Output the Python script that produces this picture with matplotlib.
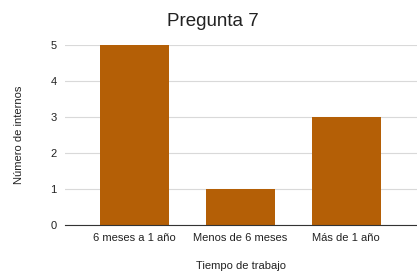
import matplotlib
matplotlib.use("Agg")
import matplotlib.pyplot as plt

categories = ["6 meses a 1 año", "Menos de 6 meses", "Más de 1 año"]
values = [5, 1, 3]
yticks = [0, 1, 2, 3, 4, 5]

plt.rcParams['font.family'] = ['Liberation Sans', 'DejaVu Sans']

fig = plt.figure(figsize=(4.17, 2.71), dpi=100)
ax = fig.add_axes([0.156, 0.170, 0.844, 0.664])
ax.bar(range(len(categories)), values, width=0.65, color="#B45F06", zorder=3)
ax.set_xlim(-0.66, 2.67)
ax.set_ylim(0, 5)
ax.set_yticks(yticks)
ax.set_xticks(range(len(categories)))
ax.set_xticklabels(categories)
ax.grid(axis='y', color='#d9d9d9', linewidth=0.8, zorder=0)
for s in ['top', 'right', 'left']:
    ax.spines[s].set_visible(False)
ax.spines['bottom'].set_color('#333333')
ax.spines['bottom'].set_zorder(4)
ax.tick_params(axis='both', length=0, labelsize=8, colors='#222222')
ax.tick_params(axis='y', pad=6)
ax.tick_params(axis='x', pad=6)
ax.set_ylabel("Número de internos", fontsize=8, color='#222222', labelpad=19)
ax.set_xlabel("Tiempo de trabajo", fontsize=8, color='#222222', labelpad=13)
fig.text(0.51, 0.92, "Pregunta 7", ha='center', va='center', fontsize=13.5, color='#222222')
fig.savefig("out.png", dpi=100, facecolor='white')
